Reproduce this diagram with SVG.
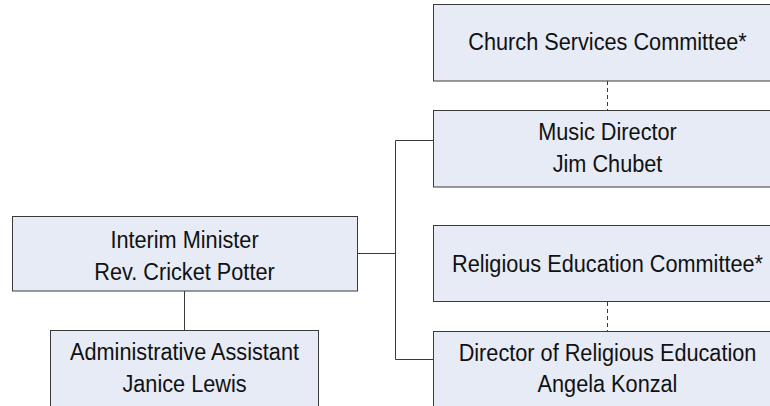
<svg xmlns="http://www.w3.org/2000/svg" width="770" height="406" viewBox="0 0 770 406">
<style>
.box{fill:#E6EBF5;stroke:#3A3A3A;stroke-width:1}
.t{font-family:"Liberation Sans",Arial,sans-serif;font-size:21.7px;fill:#111;text-anchor:middle}
.ln{stroke:#3A3A3A;stroke-width:1;fill:none}
.dash{stroke:#3A3A3A;stroke-width:1;fill:none;stroke-dasharray:4 3}
</style>
<rect width="770" height="406" fill="#ffffff"/>
<g id="connectors">
<path class="ln" d="M357.5 253.5H395.5M395.5 140.5V359.5M395.5 140.5H433.5M395.5 359.5H433.5"/>
<path class="ln" d="M184.5 291V330"/>
<path class="dash" d="M607.5 81V110"/>
<path class="dash" d="M607.5 302V331"/>
</g>
<g id="church-services">
<rect class="box" x="433.5" y="4.5" width="348" height="76.5"/>
<text class="t" transform="translate(607.5,50) scale(1,1.1)">Church Services Committee*</text>
</g>
<g id="music-director">
<rect class="box" x="433.5" y="110.5" width="348" height="76.5"/>
<text class="t" transform="translate(607.5,140) scale(1,1.1)"><tspan x="0" y="0">Music Director</tspan><tspan x="0" y="29.5">Jim Chubet</tspan></text>
</g>
<g id="interim-minister">
<rect class="box" x="12.5" y="216.5" width="345" height="74.5"/>
<text class="t" transform="translate(184.5,248) scale(1,1.1)"><tspan x="0" y="0">Interim Minister</tspan><tspan x="0" y="29.1">Rev. Cricket Potter</tspan></text>
</g>
<g id="religious-education-committee">
<rect class="box" x="433.5" y="225.5" width="348" height="76"/>
<text class="t" transform="translate(607.5,272) scale(1,1.1)">Religious Education Committee*</text>
</g>
<g id="administrative-assistant">
<rect class="box" x="50.5" y="330.5" width="268" height="90"/>
<text class="t" transform="translate(184.5,360) scale(1,1.1)"><tspan x="0" y="0">Administrative Assistant</tspan><tspan x="0" y="29.1">Janice Lewis</tspan></text>
</g>
<g id="director-religious-education">
<rect class="box" x="433.5" y="331.5" width="348" height="90"/>
<text class="t" transform="translate(607.5,361) scale(1,1.1)"><tspan x="0" y="0">Director of Religious Education</tspan><tspan x="0" y="28.2">Angela Konzal</tspan></text>
</g>
</svg>
